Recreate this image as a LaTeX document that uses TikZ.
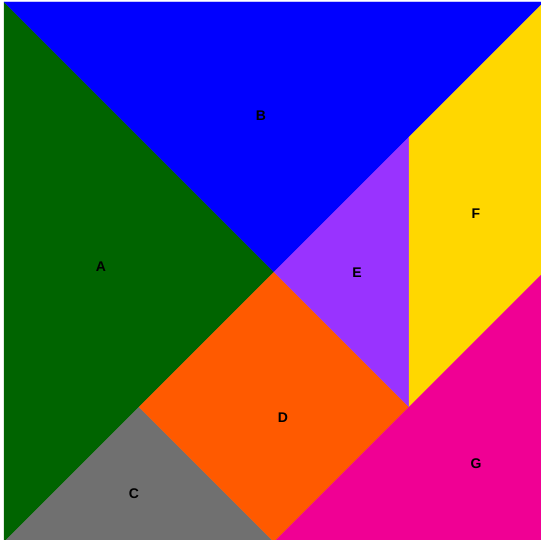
\documentclass[tikz,border=0pt]{standalone}
\usepackage{fontspec}
\setmainfont{Liberation Sans}
\definecolor{pA}{HTML}{006400}
\definecolor{pB}{HTML}{0000FF}
\definecolor{pC}{HTML}{707070}
\definecolor{pD}{HTML}{FF5A00}
\definecolor{pE}{HTML}{9933FF}
\definecolor{pF}{HTML}{FFD700}
\definecolor{pG}{HTML}{F00094}
\tikzset{
  piece/.style={line width=0.3pt, line join=round},
  lbl/.style={font=\fontsize{14}{14}\selectfont\bfseries, text=black, inner sep=0pt}
}
\begin{document}
\begin{tikzpicture}[x=1pt,y=-1pt]
\useasboundingbox (0,0) rectangle (541,540);
\begin{scope}
\clip (0,0) rectangle (541,540);
\coordinate (TL) at (4,2);
\coordinate (TR) at (544,2);
\coordinate (BL) at (4,542);
\coordinate (BR) at (544,542);
\coordinate (O) at (274,272);
\coordinate (P) at (409,137);
\coordinate (Q) at (409,407);
\coordinate (R) at (139,407);
\coordinate (S) at (274,542);
\coordinate (M) at (544,272);
\filldraw[piece, fill=pA, draw=pA] (TL) -- (O) -- (BL) -- cycle;
\filldraw[piece, fill=pB, draw=pB] (TL) -- (TR) -- (O) -- cycle;
\filldraw[piece, fill=pC, draw=pC] (BL) -- (R) -- (S) -- cycle;
\filldraw[piece, fill=pD, draw=pD] (R) -- (O) -- (Q) -- (S) -- cycle;
\filldraw[piece, fill=pE, draw=pE] (O) -- (P) -- (Q) -- cycle;
\filldraw[piece, fill=pF, draw=pF] (P) -- (TR) -- (M) -- (Q) -- cycle;
\filldraw[piece, fill=pG, draw=pG] (S) -- (Q) -- (M) -- (BR) -- cycle;
\end{scope}
\node[lbl] (la) at (101,267) {A};
\node[lbl] (lb) at (261,116) {B};
\node[lbl] (lc) at (134,494) {C};
\node[lbl] (ld) at (283,418) {D};
\node[lbl] (le) at (357,273) {E};
\node[lbl] (lf) at (476,214) {F};
\node[lbl] (lg) at (476,464) {G};
\end{tikzpicture}
\end{document}
